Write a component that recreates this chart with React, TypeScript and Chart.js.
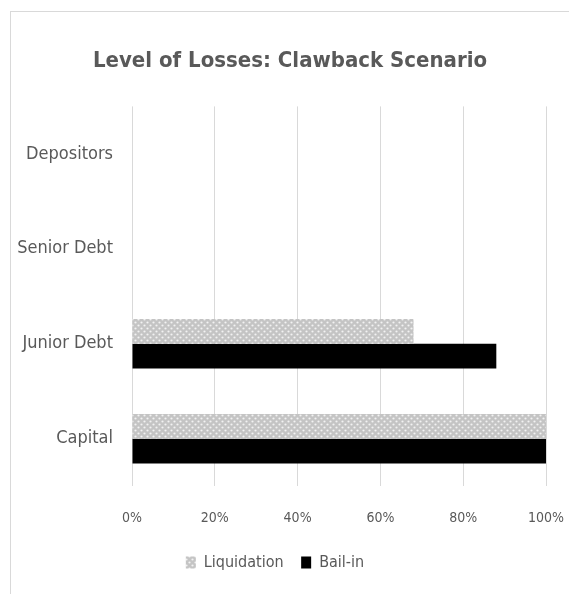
import React, { useEffect, useRef } from "react";
import { Chart, registerables } from "chart.js";

Chart.register(...registerables);

const categories = ["Depositors", "Senior Debt", "Junior Debt", "Capital"];
const liquidation = [0, 0, 0.68, 1.0];
const bailIn = [0, 0, 0.88, 1.0];
const xTicks = [0, 0.2, 0.4, 0.6, 0.8, 1.0];
const seriesNames = ["Liquidation", "Bail-in"];
const titleText = "Level of Losses: Clawback Scenario";

const FONT = "'Liberation Sans Narrow', 'DejaVu Sans Condensed', 'Open Sans', sans-serif";
const TEXT = "#595959";

function makePattern(): CanvasPattern | string {
  const c = document.createElement("canvas");
  c.width = 6;
  c.height = 6;
  const ctx = c.getContext("2d");
  if (!ctx) return "#cccccc";
  ctx.fillStyle = "#c4c4c4";
  ctx.fillRect(0, 0, 6, 6);
  ctx.fillStyle = "#f2f2f2";
  ctx.beginPath();
  ctx.arc(1.5, 1.5, 1.1, 0, Math.PI * 2);
  ctx.fill();
  ctx.beginPath();
  ctx.arc(4.5, 4.5, 1.1, 0, Math.PI * 2);
  ctx.fill();
  const p = ctx.createPattern(c, "repeat");
  return p || "#cccccc";
}

const legendShift = {
  id: "legendShift",
  afterLayout(chart: any) {
    const l = chart.legend;
    if (l) {
      l.left -= 15;
      l.right -= 15;
    }
  },
};

export default function App() {
  const ref = useRef<HTMLCanvasElement>(null);
  useEffect(() => {
    if (!ref.current) return;
    const pattern = makePattern();
    const chart = new Chart(ref.current, {
      type: "bar",
      data: {
        labels: categories,
        datasets: [
          {
            label: seriesNames[0],
            data: liquidation,
            backgroundColor: pattern as any,
            borderWidth: 0,
            categoryPercentage: 0.52,
            barPercentage: 1,
          },
          {
            label: seriesNames[1],
            data: bailIn,
            backgroundColor: "#000000",
            borderWidth: 0,
            categoryPercentage: 0.52,
            barPercentage: 1,
          },
        ],
      },
      plugins: [legendShift],
      options: {
        indexAxis: "y",
        animation: false,
        responsive: false,
        maintainAspectRatio: false,
        layout: { padding: { left: 0, right: 0, top: 0, bottom: 13.5 } },
        plugins: {
          title: {
            display: true,
            text: titleText,
            color: TEXT,
            font: { family: FONT, size: 22, weight: "bold" },
            padding: { top: 36, bottom: 32 },
          },
          legend: {
            position: "bottom",
            labels: {
              color: TEXT,
              font: { family: FONT, size: 16 },
              boxWidth: 10,
              boxHeight: 12,
              padding: 17.5,
            },
          },
          tooltip: { enabled: false },
        },
        scales: {
          x: {
            min: 0,
            max: 1,
            afterBuildTicks: (scale: any) => {
              scale.ticks = xTicks.map((v) => ({ value: v }));
            },
            afterFit: (scale: any) => {
              scale.paddingRight = 23;
            },
            grid: { color: "#d9d9d9", drawTicks: true, tickLength: 14, tickColor: "rgba(0,0,0,0)" },
            border: { display: false },
            ticks: {
              color: TEXT,
              font: { family: FONT, size: 14 },
              padding: 10,
              callback: (v: any) => Math.round(Number(v) * 100) + "%",
            },
          },
          y: {
            grid: { display: false },
            border: { display: false },
            afterFit: (scale: any) => {
              scale.width = 121;
            },
            ticks: {
              color: TEXT,
              font: { family: FONT, size: 18 },
              padding: 11,
            },
          },
        },
      },
    });
    return () => chart.destroy();
  }, []);
  return (
    <div style={{ position: "absolute", left: 0, top: 0, width: 569, height: 594, background: "#fff" }}>
      <div
        style={{
          position: "absolute",
          left: 10,
          top: 11,
          width: 558,
          height: 582,
          borderLeft: "1px solid #d9d9d9",
          borderTop: "1px solid #d9d9d9",
        }}
      >
        <canvas ref={ref} width={558} height={582} style={{ display: "block" }} />
      </div>
    </div>
  );
}
